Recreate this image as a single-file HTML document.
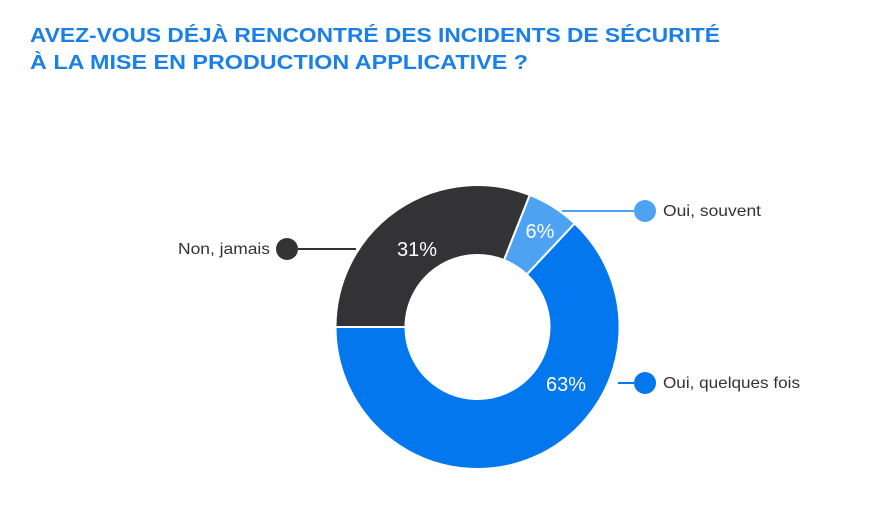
<!DOCTYPE html>
<html><head><meta charset="utf-8"><style>
body{margin:0;background:#fff;width:896px;height:504px;overflow:hidden}
</style></head><body>
<svg width="896" height="504" xmlns="http://www.w3.org/2000/svg" font-family="Liberation Sans, sans-serif">
<text x="30" y="42" font-size="20" font-weight="bold" fill="#1a7fe8" textLength="690" lengthAdjust="spacingAndGlyphs">AVEZ-VOUS DÉJÀ RENCONTRÉ DES INCIDENTS DE SÉCURITÉ</text>
<text x="30" y="69" font-size="20" font-weight="bold" fill="#1a7fe8" textLength="498" lengthAdjust="spacingAndGlyphs">À LA MISE EN PRODUCTION APPLICATIVE ?</text>
<g transform="translate(477.5,327)" stroke="#fff" stroke-width="2">
<path d="M-142,0 A142,142 0 0 1 52.3,-132 L26.5,-66.9 A72,72 0 0 0 -72,0 Z" fill="#333336"/>
<path d="M52.3,-132 A142,142 0 0 1 97.2,-103.5 L49.3,-52.5 A72,72 0 0 0 26.5,-66.9 Z" fill="#4da3f2"/>
<path d="M97.2,-103.5 A142,142 0 1 1 -142,0 L-72,0 A72,72 0 1 0 49.3,-52.5 Z" fill="#0277ee"/>
</g>
<g fill="#fff" font-size="20" text-anchor="middle">
<text x="417" y="256">31%</text>
<text x="540" y="238">6%</text>
<text x="566" y="391">63%</text>
</g>
<line x1="298" y1="249" x2="356" y2="249" stroke="#333336" stroke-width="2"/>
<circle cx="287" cy="249" r="11" fill="#333336"/>
<line x1="562" y1="211" x2="634" y2="211" stroke="#4da3f2" stroke-width="2"/>
<circle cx="645" cy="211" r="11" fill="#4da3f2"/>
<line x1="618" y1="383" x2="634" y2="383" stroke="#0277ee" stroke-width="2"/>
<circle cx="645" cy="383" r="11" fill="#0277ee"/>
<g font-size="16" fill="#333">
<text x="178" y="254" textLength="92" lengthAdjust="spacingAndGlyphs">Non, jamais</text>
<text x="663" y="216" textLength="98" lengthAdjust="spacingAndGlyphs">Oui, souvent</text>
<text x="663" y="388" textLength="137" lengthAdjust="spacingAndGlyphs">Oui, quelques fois</text>
</g>
</svg>
</body></html>
